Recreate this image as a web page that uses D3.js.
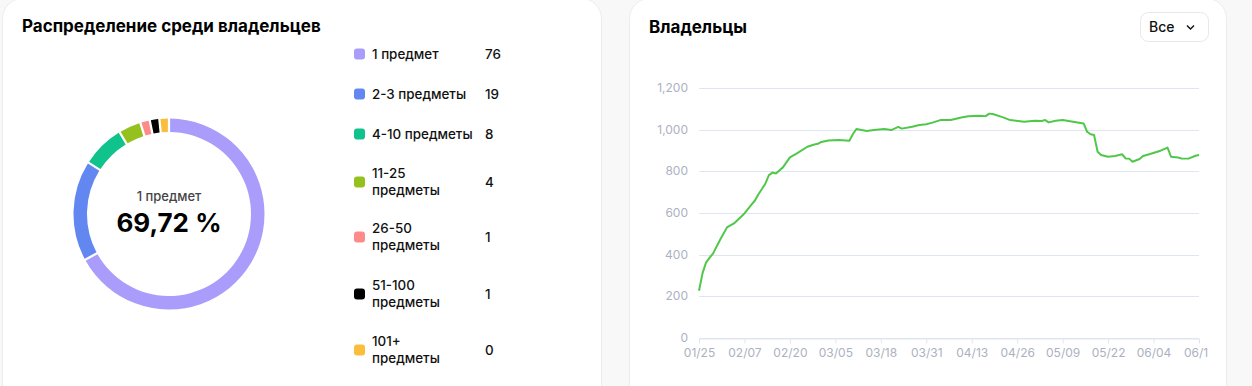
<!DOCTYPE html>
<html>
<head>
<meta charset="utf-8">
<script src="https://cdn.jsdelivr.net/npm/d3@7"></script>
<style>
  body { margin: 0; background: #f8f8f9; font-family: Inter, "Noto Sans", sans-serif; }
  svg { display: block; }
</style>
</head>
<body>
<svg id="chart" width="1252" height="386"></svg>
<script>
// distribution among owners
var groups = ["1 предмет", "2-3 предметы", "4-10 предметы", "11-25 предметы", "26-50 предметы", "51-100 предметы", "101+ предметы"];
var groupLines = [["1 предмет"], ["2-3 предметы"], ["4-10 предметы"], ["11-25", "предметы"], ["26-50", "предметы"], ["51-100", "предметы"], ["101+", "предметы"]];
var counts = [76, 19, 8, 4, 1, 1, 0];
var colors = ["#a99cfa", "#6387f1", "#10c28b", "#95c11f", "#ff8a8a", "#000000", "#fbbd3c"];

// owners over time
var dates = ["2025-01-25","2025-01-26","2025-01-27","2025-01-28","2025-01-29","2025-01-31","2025-02-02","2025-02-04","2025-02-07","2025-02-09","2025-02-10","2025-02-11","2025-02-12","2025-02-13","2025-02-14","2025-02-15","2025-02-16","2025-02-18","2025-02-20","2025-02-22","2025-02-25","2025-02-27","2025-02-28","2025-03-01","2025-03-03","2025-03-06","2025-03-09","2025-03-10","2025-03-11","2025-03-14","2025-03-16","2025-03-19","2025-03-21","2025-03-23","2025-03-24","2025-03-27","2025-03-29","2025-03-31","2025-04-02","2025-04-04","2025-04-07","2025-04-10","2025-04-12","2025-04-15","2025-04-17","2025-04-18","2025-04-19","2025-04-22","2025-04-24","2025-04-28","2025-05-01","2025-05-03","2025-05-04","2025-05-05","2025-05-07","2025-05-09","2025-05-12","2025-05-15","2025-05-16","2025-05-17","2025-05-18","2025-05-19","2025-05-20","2025-05-22","2025-05-24","2025-05-26","2025-05-27","2025-05-28","2025-05-29","2025-05-31","2025-06-01","2025-06-03","2025-06-06","2025-06-08","2025-06-09","2025-06-11","2025-06-12","2025-06-14","2025-06-16","2025-06-17"];
var owners = [227,310,362,385,405,470,531,550,598,640,660,690,715,742,782,794,790,819,867,886,918,929,932,941,948,950,947,978,1003,994,998,1003,998,1013,1005,1014,1022,1026,1035,1046,1046,1058,1064,1067,1065,1077,1075,1059,1046,1038,1043,1042,1046,1035,1043,1046,1038,1030,990,978,974,894,878,870,874,882,862,861,846,859,874,883,899,914,870,866,862,861,875,878];
var xTicks = ["01/25","02/07","02/20","03/05","03/18","03/31","04/13","04/26","05/09","05/22","06/04","06/17"];
var yTicks = [0, 200, 400, 600, 800, 1000, 1200];

var svg = d3.select("#chart");

// cards
svg.append("rect").attr("x", 2.5).attr("y", -1.5).attr("width", 599).attr("height", 420)
  .attr("rx", 20).attr("fill", "#fff").attr("stroke", "#ececec");
svg.append("rect").attr("x", 629.5).attr("y", -1.5).attr("width", 597).attr("height", 420)
  .attr("rx", 20).attr("fill", "#fff").attr("stroke", "#ececec");

// ---------- left card ----------
svg.append("text").attr("x", 22).attr("y", 32)
  .style("font-size", "17px").style("font-weight", 700).attr("fill", "#000")
  .text("Распределение среди владельцев");

var cx = 169, cy = 214;
var total = d3.sum(counts);
// small slices get a minimum angle of ~5 degrees, like the original
var minShare = total * 5 / 360;
var pie = d3.pie().sort(null).value(function(d) { return Math.max(d, minShare); }).padAngle(0.018);
var arc = d3.arc().innerRadius(82).outerRadius(95.5);
var donut = svg.append("g").attr("transform", "translate(" + cx + "," + cy + ")");
donut.selectAll("path").data(pie(counts)).enter().append("path")
  .attr("d", arc)
  .attr("fill", function(d, i) { return colors[i]; });

donut.append("text").attr("text-anchor", "middle").attr("y", -13)
  .style("font-size", "13px").style("font-weight", 500).attr("fill", "#444")
  .text(groups[0]);
donut.append("text").attr("text-anchor", "middle").attr("y", 18)
  .style("font-size", "26px").style("font-weight", 700).attr("fill", "#000")
  .text(d3.format(".2f")(counts[0] / total * 100).replace(".", ",") + " %");

var rowY = [54, 94, 134, 182, 237, 294, 350];
var legend = svg.append("g");
var rows = legend.selectAll("g").data(groupLines).enter().append("g")
  .attr("transform", function(d, i) { return "translate(354," + rowY[i] + ")"; });
rows.append("rect").attr("x", 0).attr("y", -5.5).attr("width", 11).attr("height", 11).attr("rx", 3)
  .attr("fill", function(d, i) { return colors[i]; });
rows.each(function(lines) {
  var g = d3.select(this);
  lines.forEach(function(t, j) {
    g.append("text").attr("x", 18)
      .attr("y", (j - (lines.length - 1) / 2) * 17 + 4.5)
      .style("font-size", "13.4px").style("font-weight", 500).attr("fill", "#111")
      .text(t);
  });
});
rows.append("text").attr("x", 131).attr("y", 4.5)
  .style("font-size", "13.4px").style("font-weight", 500).attr("fill", "#111")
  .text(function(d, i) { return counts[i]; });

// ---------- right card ----------
svg.append("text").attr("x", 649).attr("y", 33)
  .style("font-size", "17px").style("font-weight", 700).attr("fill", "#000")
  .text("Владельцы");

svg.append("rect").attr("x", 1140.5).attr("y", 12.5).attr("width", 68).attr("height", 29).attr("rx", 8)
  .attr("fill", "#fff").attr("stroke", "#e8e8e8");
svg.append("text").attr("x", 1149).attr("y", 32)
  .style("font-size", "14px").style("font-weight", 500).attr("fill", "#111").text("Все");
svg.append("path").attr("d", "M1187,25.5 L1190.5,29 L1194,25.5")
  .attr("fill", "none").attr("stroke", "#111").attr("stroke-width", 1.4);

var parse = d3.timeParse("%Y-%m-%d");
var tickParse = function(s) { return parse("2025-" + s.replace("/", "-")); };
var series = dates.map(function(d, i) { return { date: parse(d), value: owners[i] }; });

var x = d3.scaleTime()
  .domain([tickParse(xTicks[0]), tickParse(xTicks[xTicks.length - 1])])
  .range([699, 1199]);
var y = d3.scaleLinear().domain([0, 1200]).range([338, 88]);

var plot = svg.append("g");
plot.append("defs").append("clipPath").attr("id", "clipX")
  .append("rect").attr("x", 630).attr("y", 0).attr("width", 578).attr("height", 386);

plot.selectAll("line.grid").data(yTicks).enter().append("line")
  .attr("class", "grid")
  .attr("x1", 699).attr("x2", 1199)
  .attr("y1", function(d) { return Math.round(y(d)) + 0.5; })
  .attr("y2", function(d) { return Math.round(y(d)) + 0.5; })
  .attr("stroke", "#e0e6f1");

plot.selectAll("text.ylab").data(yTicks).enter().append("text")
  .attr("class", "ylab").attr("x", 688).attr("y", function(d) { return y(d) + 4; })
  .attr("text-anchor", "end")
  .style("font-size", "12px").attr("fill", "#abb1c1")
  .text(function(d) { return d3.format(",")(d); });

var xAxis = d3.axisBottom(x)
  .tickValues(xTicks.map(tickParse))
  .tickFormat(d3.timeFormat("%m/%d"))
  .tickSize(5).tickSizeOuter(0);
var xg = plot.append("g").attr("transform", "translate(0," + (Math.round(y(0)) + 0.5) + ")")
  .attr("clip-path", "url(#clipX)")
  .call(xAxis);
xg.select(".domain").attr("stroke", "#e0e6f1");
xg.selectAll(".tick line").attr("stroke", "#e0e6f1");
xg.selectAll(".tick text").attr("dy", "1.1em").attr("y", 5)
  .style("font-size", "12px").style("font-family", "Inter, 'Noto Sans', sans-serif").attr("fill", "#abb1c1");

var line = d3.line()
  .x(function(d) { return x(d.date); })
  .y(function(d) { return y(d.value); });
plot.append("path").datum(series)
  .attr("d", line)
  .attr("fill", "none").attr("stroke", "#4fc84a").attr("stroke-width", 2)
  .attr("stroke-linejoin", "round");
</script>
</body>
</html>
